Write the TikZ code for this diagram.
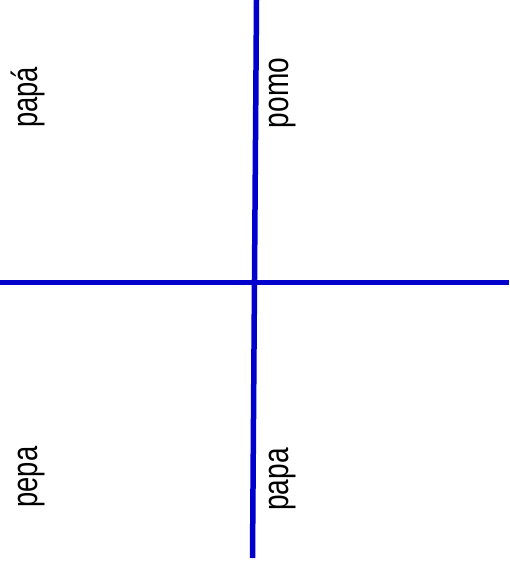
\documentclass[tikz,border=0pt]{standalone}
\usepackage{fontspec}
\setmainfont{Liberation Sans}
\usepackage{graphicx}
\usetikzlibrary{positioning}

\definecolor{axisblue}{RGB}{0,0,204}

\begin{document}
\begin{tikzpicture}[
    x=1pt,
    y=-1pt,
    axis/.style={
        draw=axisblue,
        line width=5.5pt
    },
    word/.style={
        rotate=90,
        anchor=base,
        inner sep=0pt,
        font=\fontsize{36}{40}\selectfont
    }
]

\useasboundingbox (0,0) rectangle (509,565);

% Ends of the two lines
\coordinate (top) at (256.5,0);
\coordinate (bottom) at (252.5,558);
\coordinate (left) at (0,282.5);
\coordinate (right) at (509,282.5);

% Lines
\draw[axis] (left) -- (right);
\draw[axis] (top) -- (bottom);

% Words in the four quarters
\node[word] (papaacc) at (37,97.5) {\scalebox{0.76}[1]{papá}};
\node[word] (pomo) at (288,93) {\scalebox{0.78}[1]{pomo}};
\node[word] (pepa) at (37,477) {\scalebox{0.76}[1]{pepa}};
\node[word] (papa) at (288,479.5) {\scalebox{0.78}[1]{papa}};

\end{tikzpicture}
\end{document}
